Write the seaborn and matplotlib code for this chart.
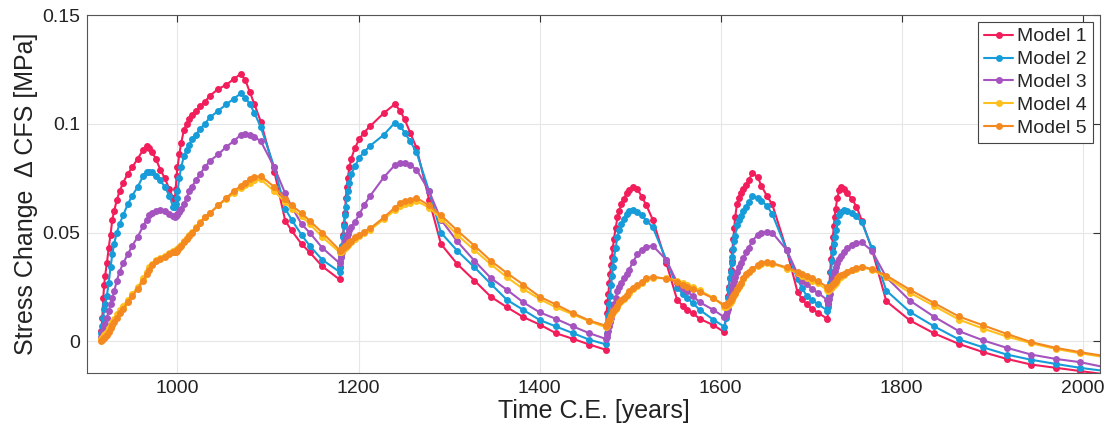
import numpy as np
import pandas as pd
import matplotlib
matplotlib.use("Agg")
import matplotlib.pyplot as plt
import seaborn as sns
from matplotlib.ticker import FixedLocator, FuncFormatter

# ---------------- data ----------------
years = [
    # after ~916 event
    916, 917, 918, 919, 920, 922, 924, 926, 928, 930, 933, 936, 940, 945, 950,
    956, 962, 966, 969, 972, 976, 981, 986, 991, 995,
    # after ~997 event
    997, 998, 999, 1000, 1002, 1004, 1007, 1010, 1013, 1016, 1020, 1025, 1030,
    1036, 1045, 1054, 1062, 1070, 1075, 1080, 1085, 1092, 1107, 1119, 1126,
    1137, 1146, 1160, 1179,
    # after ~1180 event
    1180, 1181, 1182, 1183, 1184, 1185, 1186, 1187, 1188, 1190, 1192, 1196,
    1201, 1206, 1213, 1228, 1240, 1246, 1251, 1257, 1264, 1278, 1291, 1309,
    1328, 1346, 1364, 1382, 1400, 1418, 1437, 1455, 1473,
    # after ~1474 event
    1474, 1475, 1476, 1477, 1478, 1479, 1480, 1481, 1482, 1484, 1486, 1488,
    1490, 1493, 1496, 1499, 1503, 1508, 1513, 1518, 1525, 1540, 1552, 1558,
    1563, 1569, 1577, 1592, 1604,
    # after ~1606 event
    1606, 1607, 1608, 1609, 1610, 1611, 1612, 1613, 1614, 1615, 1616, 1618,
    1620, 1622, 1625, 1628, 1631, 1635, 1641, 1645, 1651, 1657, 1673, 1685,
    1690, 1695, 1701, 1707, 1718,
    # after ~1719 event
    1719, 1720, 1721, 1722, 1723, 1724, 1725, 1726, 1727, 1729, 1731, 1733,
    1736, 1740, 1745, 1750, 1756, 1767, 1783, 1809, 1836, 1863, 1890, 1916,
    1943, 1970, 1997, 2023,
]

model1 = [
    0.005, 0.011, 0.020, 0.026, 0.030, 0.036, 0.043, 0.049, 0.056, 0.060, 0.065, 0.069, 0.073, 0.077, 0.080,
    0.084, 0.088, 0.090, 0.089, 0.087, 0.084, 0.079, 0.075, 0.070, 0.066,
    0.065, 0.070, 0.076, 0.080, 0.086, 0.091, 0.097, 0.100, 0.102, 0.104, 0.106, 0.108, 0.110,
    0.113, 0.116, 0.118, 0.1205, 0.123, 0.120, 0.1145, 0.109, 0.101, 0.078, 0.0555, 0.051,
    0.0448, 0.041, 0.0345, 0.0285,
    0.034, 0.040, 0.044, 0.049, 0.054, 0.059, 0.066, 0.071, 0.075, 0.080, 0.084, 0.089,
    0.093, 0.096, 0.099, 0.105, 0.109, 0.106, 0.102, 0.096, 0.089, 0.065, 0.0448, 0.0356,
    0.028, 0.0206, 0.0157, 0.0112, 0.0078, 0.0038, 0.0012, -0.0014, -0.0038,
    0.013, 0.018, 0.022, 0.027, 0.031, 0.035, 0.039, 0.043, 0.047, 0.052, 0.057, 0.060,
    0.063, 0.0655, 0.068, 0.0695, 0.0712, 0.070, 0.0665, 0.0625, 0.056, 0.036, 0.019, 0.0165,
    0.0145, 0.013, 0.0104, 0.0075, 0.0043,
    0.012, 0.017, 0.021, 0.025, 0.029, 0.033, 0.037, 0.042, 0.047, 0.052, 0.057, 0.063,
    0.066, 0.068, 0.070, 0.072, 0.074, 0.0775, 0.0755, 0.0715, 0.067, 0.063, 0.042, 0.0226,
    0.0195, 0.017, 0.015, 0.0133, 0.0104,
    0.017, 0.025, 0.032, 0.038, 0.043, 0.048, 0.053, 0.057, 0.061, 0.066, 0.0695, 0.0708,
    0.070, 0.068, 0.0655, 0.062, 0.0555, 0.0425, 0.0185, 0.0097, 0.0037, -0.0011, -0.0049, -0.008,
    -0.0106, -0.0121, -0.0136, -0.0150,
]

model2 = [
    0.004, 0.007, 0.011, 0.015, 0.017, 0.021, 0.027, 0.034, 0.040, 0.045, 0.050, 0.054, 0.058, 0.063, 0.067,
    0.071, 0.076, 0.078, 0.078, 0.078, 0.076, 0.074, 0.071, 0.067, 0.062,
    0.062, 0.063, 0.066, 0.069, 0.075, 0.080, 0.085, 0.088, 0.0905, 0.093, 0.095, 0.0975, 0.100,
    0.103, 0.106, 0.109, 0.1115, 0.114, 0.112, 0.109, 0.105, 0.0985, 0.080, 0.061, 0.056,
    0.049, 0.044, 0.0375, 0.032,
    0.034, 0.039, 0.044, 0.048, 0.053, 0.058, 0.062, 0.066, 0.069, 0.073, 0.077, 0.0805,
    0.0845, 0.087, 0.090, 0.095, 0.1005, 0.099, 0.096, 0.092, 0.087, 0.069, 0.050, 0.0417,
    0.0341, 0.0265, 0.0191, 0.0145, 0.0099, 0.0069, 0.0038, 0.0008, -0.0013,
    0.004, 0.008, 0.012, 0.017, 0.021, 0.026, 0.030, 0.034, 0.038, 0.043, 0.048, 0.051,
    0.054, 0.0565, 0.0585, 0.060, 0.0605, 0.0595, 0.058, 0.0555, 0.0525, 0.0375, 0.0245, 0.022,
    0.020, 0.0177, 0.0145, 0.010, 0.0068,
    0.011, 0.0157, 0.020, 0.024, 0.029, 0.032, 0.036, 0.039, 0.0425, 0.046, 0.0485, 0.0535,
    0.056, 0.0575, 0.060, 0.062, 0.064, 0.067, 0.066, 0.0647, 0.0624, 0.0586, 0.042, 0.0285,
    0.0245, 0.021, 0.019, 0.0173, 0.0142,
    0.016, 0.021, 0.027, 0.032, 0.037, 0.041, 0.045, 0.048, 0.051, 0.055, 0.058, 0.0595,
    0.0603, 0.060, 0.059, 0.0575, 0.0547, 0.043, 0.0234, 0.0136, 0.0069, 0.001, -0.0027, -0.006,
    -0.0084, -0.0103, -0.0121, -0.0135,
]

model3 = [
    0.002, 0.003, 0.005, 0.006, 0.008, 0.011, 0.014, 0.017, 0.020, 0.023, 0.028, 0.032, 0.036, 0.040, 0.044,
    0.048, 0.053, 0.056, 0.058, 0.059, 0.060, 0.0605, 0.060, 0.0585, 0.0575,
    0.057, 0.0575, 0.058, 0.0585, 0.0595, 0.061, 0.063, 0.066, 0.069, 0.071, 0.074, 0.077, 0.080,
    0.083, 0.086, 0.0895, 0.092, 0.095, 0.0955, 0.095, 0.094, 0.092, 0.080, 0.068, 0.062,
    0.054, 0.050, 0.043, 0.036,
    0.037, 0.039, 0.041, 0.043, 0.044, 0.046, 0.047, 0.048, 0.0495, 0.051, 0.0525, 0.055,
    0.0585, 0.0625, 0.067, 0.0755, 0.081, 0.082, 0.082, 0.081, 0.079, 0.069, 0.056, 0.046,
    0.0371, 0.0292, 0.0237, 0.018, 0.0134, 0.0104, 0.0069, 0.0038, 0.0012,
    0.002, 0.0035, 0.005, 0.007, 0.009, 0.011, 0.013, 0.015, 0.017, 0.020, 0.023, 0.025,
    0.027, 0.029, 0.031, 0.033, 0.0365, 0.040, 0.042, 0.0435, 0.044, 0.0375, 0.027, 0.0245,
    0.023, 0.021, 0.018, 0.0145, 0.0112,
    0.012, 0.0135, 0.015, 0.017, 0.019, 0.021, 0.023, 0.025, 0.0265, 0.028, 0.0295, 0.032,
    0.034, 0.036, 0.0385, 0.041, 0.043, 0.0463, 0.049, 0.050, 0.0505, 0.050, 0.042, 0.031,
    0.028, 0.0265, 0.024, 0.0225, 0.019,
    0.0175, 0.0195, 0.022, 0.0245, 0.027, 0.029, 0.031, 0.0325, 0.034, 0.036, 0.038, 0.0395,
    0.041, 0.043, 0.0445, 0.0452, 0.0455, 0.0417, 0.0295, 0.0188, 0.0113, 0.0048, 0.0005, -0.0029,
    -0.006, -0.008, -0.0095, -0.0117,
]

model4 = [
    0.001, 0.0015, 0.002, 0.003, 0.0035, 0.0045, 0.006, 0.0075, 0.009, 0.0105, 0.0125, 0.0145, 0.0165, 0.019, 0.022,
    0.025, 0.029, 0.032, 0.034, 0.0355, 0.0375, 0.0385, 0.0395, 0.0405, 0.0415,
    0.0418, 0.042, 0.0423, 0.0426, 0.0435, 0.0445, 0.046, 0.0475, 0.049, 0.0505, 0.0525, 0.055, 0.0572,
    0.0592, 0.0625, 0.0655, 0.068, 0.0705, 0.072, 0.073, 0.074, 0.0745, 0.069, 0.064, 0.061,
    0.0575, 0.054, 0.048, 0.041,
    0.041, 0.0413, 0.0418, 0.0423, 0.0427, 0.0431, 0.0435, 0.044, 0.0445, 0.0452, 0.0458, 0.0473,
    0.0483, 0.0498, 0.0513, 0.0562, 0.0603, 0.0622, 0.0632, 0.0638, 0.0645, 0.0615, 0.0565, 0.049,
    0.042, 0.0355, 0.0295, 0.0241, 0.0195, 0.0157, 0.0124, 0.0093, 0.0065,
    0.007, 0.0075, 0.0085, 0.0095, 0.0105, 0.0115, 0.0125, 0.0135, 0.014, 0.015, 0.016, 0.0175,
    0.0185, 0.0195, 0.021, 0.0225, 0.024, 0.0255, 0.027, 0.0285, 0.0292, 0.029, 0.028, 0.027,
    0.026, 0.025, 0.0235, 0.020, 0.016,
    0.016, 0.0163, 0.0168, 0.0173, 0.0178, 0.0183, 0.0191, 0.0198, 0.0205, 0.0213, 0.022, 0.0235,
    0.025, 0.0265, 0.0285, 0.0305, 0.0318, 0.0333, 0.0348, 0.0358, 0.0362, 0.0358, 0.0335, 0.0315,
    0.0303, 0.0292, 0.028, 0.0268, 0.0235,
    0.023, 0.0235, 0.024, 0.0245, 0.025, 0.0255, 0.026, 0.0265, 0.027, 0.028, 0.029, 0.0298,
    0.0305, 0.0317, 0.0328, 0.0335, 0.034, 0.033, 0.0295, 0.0224, 0.0163, 0.0101, 0.0059, 0.0023,
    -0.0008, -0.0034, -0.0054, -0.0071,
]

model5 = [
    0.0, 0.0005, 0.001, 0.0015, 0.002, 0.003, 0.0045, 0.006, 0.0075, 0.009, 0.011, 0.013, 0.015, 0.018, 0.021,
    0.024, 0.028, 0.031, 0.033, 0.035, 0.037, 0.038, 0.039, 0.040, 0.041,
    0.041, 0.0413, 0.0416, 0.042, 0.043, 0.044, 0.0455, 0.047, 0.0485, 0.050, 0.052, 0.0545, 0.057,
    0.059, 0.0625, 0.066, 0.069, 0.0715, 0.073, 0.0745, 0.0755, 0.076, 0.071, 0.0655, 0.0625,
    0.059, 0.0555, 0.050, 0.042,
    0.0418, 0.042, 0.0425, 0.043, 0.0433, 0.0437, 0.044, 0.0445, 0.045, 0.0457, 0.0463, 0.048,
    0.049, 0.0505, 0.052, 0.057, 0.0615, 0.0635, 0.0645, 0.0652, 0.066, 0.0625, 0.058, 0.051,
    0.044, 0.0371, 0.0314, 0.0261, 0.0206, 0.017, 0.013, 0.0096, 0.0073,
    0.0075, 0.008, 0.009, 0.010, 0.011, 0.012, 0.013, 0.014, 0.0145, 0.0155, 0.0165, 0.018,
    0.019, 0.020, 0.0215, 0.023, 0.0245, 0.026, 0.0275, 0.029, 0.0298, 0.0288, 0.0275, 0.026,
    0.025, 0.024, 0.0228, 0.0198, 0.0168,
    0.0168, 0.017, 0.0175, 0.018, 0.0185, 0.019, 0.0198, 0.0205, 0.021, 0.022, 0.0225, 0.024,
    0.0255, 0.027, 0.029, 0.031, 0.032, 0.0335, 0.035, 0.036, 0.0365, 0.036, 0.034, 0.032,
    0.031, 0.030, 0.029, 0.0278, 0.025,
    0.024, 0.0245, 0.025, 0.0255, 0.026, 0.0265, 0.027, 0.0275, 0.028, 0.029, 0.030, 0.0305,
    0.031, 0.032, 0.033, 0.0338, 0.0344, 0.0333, 0.0303, 0.0238, 0.0176, 0.0115, 0.0074, 0.0035,
    -0.0003, -0.0029, -0.0049, -0.0066,
]

model_names = ["Model 1", "Model 2", "Model 3", "Model 4", "Model 5"]
model_colors = ["#F21D5B", "#169CD9", "#A553BF", "#FDC01C", "#F4891F"]
x_ticks = [1000, 1200, 1400, 1600, 1800, 2000]
y_ticks = [0, 0.05, 0.1, 0.15]

# ---------------- build long table ----------------
series = [model1, model2, model3, model4, model5]
frames = []
for name, vals in zip(model_names, series):
    frames.append(pd.DataFrame({"Year": years, "Stress": vals, "Model": name}))
df = pd.concat(frames, ignore_index=True)

# ---------------- plot ----------------
sns.set_style("white")
plt.rcParams["font.family"] = ["Liberation Sans", "DejaVu Sans"]

fig = plt.figure(figsize=(11.15, 4.42), dpi=100)
ax = fig.add_axes([0.078, 0.157, 0.9085, 0.809])

sns.lineplot(
    data=df, x="Year", y="Stress", hue="Model", hue_order=model_names,
    palette=model_colors, marker="o", markersize=5, markeredgewidth=0,
    linewidth=1.5, estimator=None, sort=False, ax=ax,
)

ax.set_xlim(900, 2019)
ax.set_ylim(-0.0143, 0.15)
ax.xaxis.set_major_locator(FixedLocator(x_ticks))
ax.yaxis.set_major_locator(FixedLocator(y_ticks))
ax.yaxis.set_major_formatter(FuncFormatter(lambda v, p: f"{v:g}"))

ax.grid(True, color="#e6e6e6", linewidth=0.8)
ax.set_axisbelow(True)
for s in ax.spines.values():
    s.set_color("#555555")
    s.set_linewidth(0.8)
ax.tick_params(direction="in", length=5, width=0.8, color="#333333",
               top=True, right=True, labelsize=14, labelcolor="#222222", pad=5)

ax.set_xlabel("Time C.E. [years]", fontsize=18, color="#222222", labelpad=2)
ax.set_ylabel("Stress Change  \u0394 CFS [MPa]", fontsize=18, color="#222222", labelpad=3)

leg = ax.legend(loc="upper right", fontsize=14, frameon=True, fancybox=False,
                edgecolor="#444444", framealpha=1, borderpad=0.3,
                handlelength=1.5, handletextpad=0.2, labelspacing=0.27,
                borderaxespad=0.36)
leg.get_frame().set_linewidth(0.8)
leg.set_title(None)

fig.savefig("out.png", dpi=100)
